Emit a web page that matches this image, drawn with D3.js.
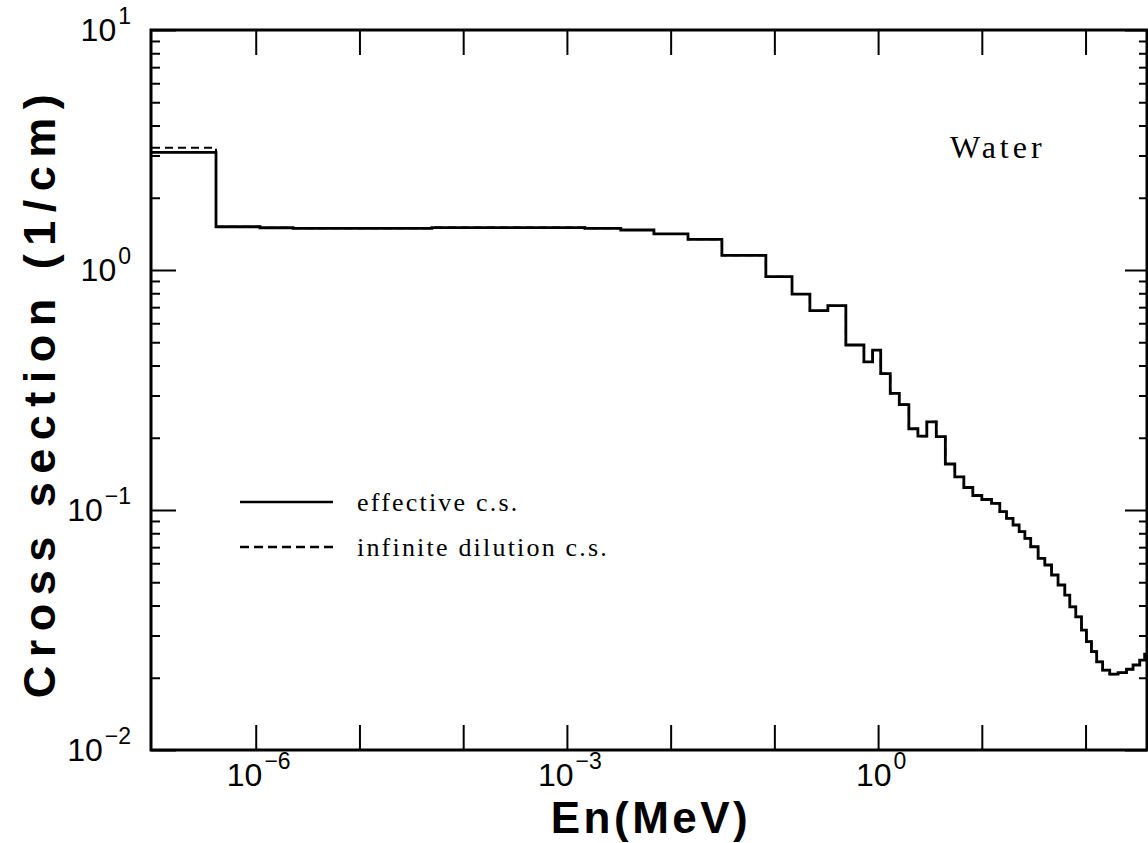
<!DOCTYPE html>
<html>
<head>
<meta charset="utf-8">
<script src="https://cdn.jsdelivr.net/npm/d3@7"></script>
<style>
  body { margin: 0; background: #fff; }
  text { fill: #000; }
</style>
</head>
<body>
<svg id="chart" width="1148" height="843"></svg>
<script>
// group boundaries in MeV (one more entry than the value arrays)
const energyBounds = [1e-7, 4.14e-7, 1.1e-6, 2.29e-6, 5.0e-5, 1.49e-3, 3.31e-3, 6.9e-3, 1.47e-2, 3.12e-2,
  8.28e-2, 0.148, 0.220, 0.328, 0.489, 0.730, 0.885, 1.06, 1.31, 1.60,
  1.98, 2.42, 2.95, 3.64, 4.45, 5.49, 6.71, 8.19, 10.0, 12.4,
  14.9, 17.3, 20.0, 22.9, 26.0, 29.6, 34.9, 40.5, 47.0, 54.3,
  63.1, 70.5, 80.5, 91.4, 102, 114, 128, 146, 171, 206,
  248, 287, 333, 372, 400];

// effective cross section, 1/cm
const effectiveXs = [3.09, 1.514, 1.500, 1.492, 1.503, 1.492, 1.468, 1.413, 1.342, 1.151,
  0.938, 0.794, 0.677, 0.710, 0.487, 0.414, 0.464, 0.370, 0.306, 0.275,
  0.218, 0.203, 0.233, 0.202, 0.1555, 0.1373, 0.1241, 0.1149, 0.1106, 0.1066,
  0.0984, 0.0923, 0.0866, 0.0812, 0.0762, 0.0703, 0.0629, 0.0590, 0.0536, 0.0487,
  0.0442, 0.0395, 0.0359, 0.0316, 0.0283, 0.0257, 0.0233, 0.0215, 0.0207, 0.0210,
  0.0217, 0.0226, 0.0237, 0.0251];

// infinite dilution cross section, 1/cm (only the thermal group shows apart)
const dilutionXs = [3.23, 1.514, 1.500, 1.492, 1.503, 1.492, 1.468, 1.413, 1.342, 1.151,
  0.938, 0.794, 0.677, 0.710, 0.487, 0.414, 0.464, 0.370, 0.306, 0.275,
  0.218, 0.203, 0.233, 0.202, 0.1555, 0.1373, 0.1241, 0.1149, 0.1106, 0.1066,
  0.0984, 0.0923, 0.0866, 0.0812, 0.0762, 0.0703, 0.0629, 0.0590, 0.0536, 0.0487,
  0.0442, 0.0395, 0.0359, 0.0316, 0.0283, 0.0257, 0.0233, 0.0215, 0.0207, 0.0210,
  0.0217, 0.0226, 0.0237, 0.0251];

const xMajorTicks = [1e-6, 1e-5, 1e-4, 1e-3, 1e-2, 1e-1, 1e0, 1e1, 1e2];
const xLabels = [{ v: 1e-6, exp: "\u22126" }, { v: 1e-3, exp: "\u22123" }, { v: 1e0, exp: "0" }];
const yMajorTicks = [1e-2, 1e-1, 1e0, 1e1];
const yLabels = [{ v: 1e1, exp: "1" }, { v: 1e0, exp: "0" }, { v: 1e-1, exp: "\u22121" }, { v: 1e-2, exp: "\u22122" }];
const legendItems = [
  { label: "effective c.s.", dash: null },
  { label: "infinite dilution c.s.", dash: "9,5" }
];

const m = { left: 151, right: 1147, top: 30, bottom: 750 };
const svg = d3.select("#chart");

const x = d3.scaleLog().domain([1e-7, 400]).range([152, 1148]);
const y = d3.scaleLog().domain([1e-2, 1e1]).range([m.bottom, m.top]);

const yMinor = [];
for (const dec of [1e-2, 1e-1, 1e0]) {
  for (let k = 2; k <= 9; k++) yMinor.push(dec * k);
}

svg.append("defs").append("clipPath").attr("id", "plot-clip")
  .append("rect").attr("x", m.left).attr("y", m.top)
  .attr("width", m.right - m.left).attr("height", m.bottom - m.top);

// step curves
function stepPoints(vals) {
  const pts = vals.map((v, i) => [energyBounds[i], v]);
  pts.push([energyBounds[energyBounds.length - 1], vals[vals.length - 1]]);
  return pts;
}
const line = d3.line().x(d => x(d[0])).y(d => y(d[1])).curve(d3.curveStepAfter);

const curves = svg.append("g").attr("clip-path", "url(#plot-clip)");
curves.append("path")
  .attr("d", line(stepPoints(dilutionXs)))
  .attr("fill", "none").attr("stroke", "#000").attr("stroke-width", 2)
  .attr("stroke-dasharray", "8,5");
curves.append("path")
  .attr("d", line(stepPoints(effectiveXs)))
  .attr("fill", "none").attr("stroke", "#000").attr("stroke-width", 2.8);

// axes with inward ticks
const tickFmt = () => "";
const xb = svg.append("g").attr("transform", `translate(0,${m.bottom})`)
  .call(d3.axisBottom(x).tickValues(xMajorTicks).tickSize(-25).tickFormat(tickFmt));
const xt = svg.append("g").attr("transform", `translate(0,${m.top})`)
  .call(d3.axisTop(x).tickValues(xMajorTicks).tickSize(-25).tickFormat(tickFmt));
const yl = svg.append("g").attr("transform", `translate(${m.left},0)`)
  .call(d3.axisLeft(y).tickValues(yMajorTicks).tickSize(-25).tickFormat(tickFmt));
const ylm = svg.append("g").attr("transform", `translate(${m.left},0)`)
  .call(d3.axisLeft(y).tickValues(yMinor).tickSize(-9).tickFormat(tickFmt));
const yr = svg.append("g").attr("transform", `translate(${m.right},0)`)
  .call(d3.axisRight(y).tickValues(yMajorTicks).tickSize(-22).tickFormat(tickFmt));
const yrm = svg.append("g").attr("transform", `translate(${m.right},0)`)
  .call(d3.axisRight(y).tickValues(yMinor).tickSize(-8).tickFormat(tickFmt));
for (const g of [xb, xt, yl, ylm, yr, yrm]) {
  g.select(".domain").remove();
  g.selectAll(".tick line").attr("stroke", "#000").attr("stroke-width", 2);
}

// frame
svg.append("rect")
  .attr("x", m.left).attr("y", m.top).attr("width", m.right - m.left).attr("height", m.bottom - m.top)
  .attr("fill", "none").attr("stroke", "#000").attr("stroke-width", 3);

// tick labels: "10" with a raised exponent
const sans = "'Liberation Sans', Arial, Helvetica, sans-serif";
function powerLabel(sel, exp) {
  sel.append("tspan").text("10");
  sel.append("tspan").attr("font-size", 23).attr("dx", 2).attr("dy", -17).text(exp);
}
xLabels.forEach(d => {
  svg.append("text")
    .attr("x", x(d.v) + 3).attr("y", 786)
    .attr("text-anchor", "middle")
    .attr("font-family", sans).attr("font-size", 32)
    .call(powerLabel, d.exp);
});
yLabels.forEach(d => {
  svg.append("text")
    .attr("x", 131).attr("y", y(d.v) + 11)
    .attr("text-anchor", "end")
    .attr("font-family", sans).attr("font-size", 32)
    .call(powerLabel, d.exp);
});

// axis titles
svg.append("text")
  .attr("x", 651).attr("y", 833)
  .attr("text-anchor", "middle")
  .attr("font-family", sans).attr("font-weight", "bold").attr("font-size", 44)
  .attr("letter-spacing", 3.5)
  .text("En(MeV)");
svg.append("text")
  .attr("transform", "translate(55,392) rotate(-90)")
  .attr("text-anchor", "middle")
  .attr("font-family", sans).attr("font-weight", "bold").attr("font-size", 45)
  .attr("letter-spacing", 8.5)
  .text("Cross section (1/cm)");

// annotation and legend
const serif = "'Liberation Serif', 'Times New Roman', Times, serif";
svg.append("text")
  .attr("x", 950).attr("y", 158)
  .attr("font-family", serif).attr("font-size", 32).attr("letter-spacing", 4)
  .text("Water");

const legend = svg.append("g").attr("transform", "translate(240,502)");
legendItems.forEach((d, i) => {
  const row = legend.append("g").attr("transform", `translate(0,${i * 45})`);
  row.append("line")
    .attr("x1", 0).attr("x2", 93).attr("y1", 0).attr("y2", 0)
    .attr("stroke", "#000").attr("stroke-width", 2.5)
    .attr("stroke-dasharray", d.dash);
  row.append("text")
    .attr("x", 117).attr("y", 9)
    .attr("font-family", serif).attr("font-size", 26).attr("letter-spacing", 2.2)
    .text(d.label);
});
</script>
</body>
</html>
